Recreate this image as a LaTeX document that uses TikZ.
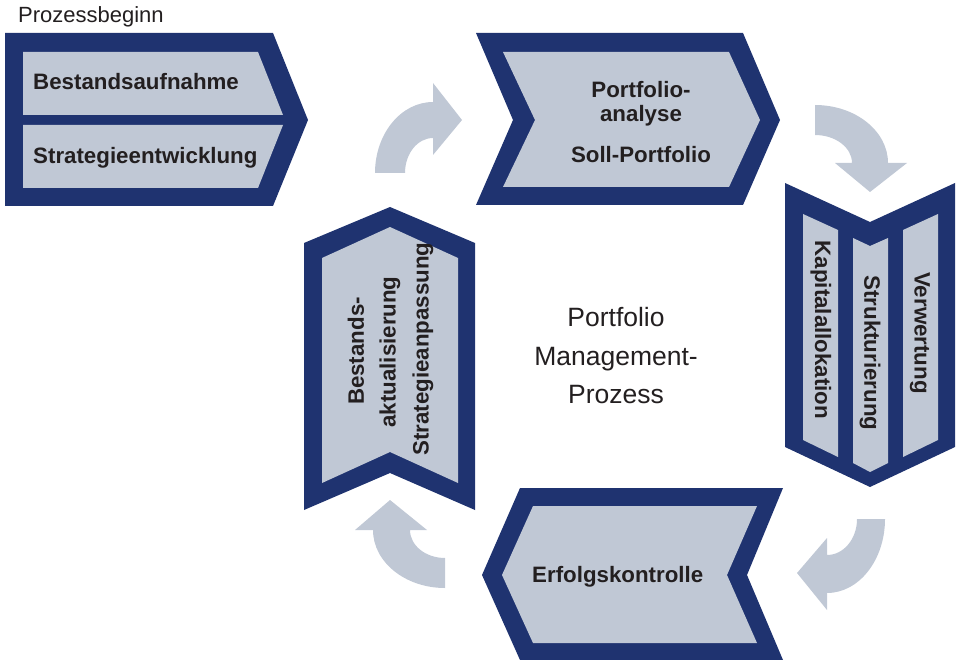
\documentclass[tikz,border=0pt]{standalone}
\usepackage{fontspec}
\setmainfont{Liberation Sans}
\definecolor{dk}{HTML}{1F3370}
\definecolor{lt}{HTML}{C0C8D5}
\definecolor{tx}{HTML}{231F20}
\begin{document}
\begin{tikzpicture}[x=1pt,y=-1pt,
  outer/.style={fill=dk},
  panel/.style={fill=lt},
  arr/.style={fill=lt},
  lbl/.style={font=\fontsize{22.3}{26}\selectfont\bfseries, text=tx, inner sep=0pt},
  plain/.style={font=\fontsize{22}{26}\selectfont, text=tx, inner sep=0pt},
  ctr/.style={font=\fontsize{26.5}{30}\selectfont, text=tx, inner sep=0pt}]
\useasboundingbox (0,0) rectangle (957,660);

% shape 1: Bestandsaufnahme / Strategieentwicklung
\fill[outer] (5,33) -- (273,33) -- (308,120) -- (273,206) -- (5,206) -- cycle;
\fill[panel] (23,52) -- (258,52) -- (283,115) -- (23,115) -- cycle;
\fill[panel] (23,125) -- (283,125) -- (258,188) -- (23,188) -- cycle;
\node[plain, anchor=base west] (beginn) at (18,23) {Prozessbeginn};
\node[lbl, anchor=base west] (bestand) at (33,90) {Bestandsaufnahme};
\node[lbl, anchor=base west] (strat) at (33,164) {Strategieentwicklung};

% shape 2: Portfolioanalyse
\fill[outer] (476,33) -- (743,33) -- (780,120) -- (743,205) -- (476,205) -- (513,120) -- cycle;
\fill[panel] (503,52) -- (729,52) -- (760,120) -- (729,187) -- (503,187) -- (535,120) -- cycle;
\node[lbl, anchor=base] (pa1) at (641,98) {Portfolio-};
\node[lbl, anchor=base] (pa2) at (641,122) {analyse};
\node[lbl, anchor=base] (pa3) at (641,163) {Soll-Portfolio};

% shape 3: right vertical
\fill[outer] (785,183) -- (870,222) -- (955,183) -- (955,447) -- (870,487) -- (785,447) -- cycle;
\fill[panel] (803,214) -- (838,230) -- (838,457) -- (803,440) -- cycle;
\fill[panel] (853,238) -- (870,246) -- (888,238) -- (888,463) -- (870,472) -- (853,463) -- cycle;
\fill[panel] (903,230) -- (938,214) -- (938,440) -- (903,457) -- cycle;
\node[lbl, rotate=-90] (kap) at (821,330) {Kapitalallokation};
\node[lbl, rotate=-90] (struk) at (870,353) {Strukturierung};
\node[lbl, rotate=-90] (verw) at (920,333) {Verwertung};

% shape 4: left vertical
\fill[outer] (390,207) -- (475,243) -- (475,510) -- (390,473) -- (304,510) -- (304,243) -- cycle;
\fill[panel] (390,227) -- (458,258) -- (458,483) -- (390,452) -- (322,483) -- (322,258) -- cycle;
\node[lbl, rotate=90] (ba1) at (356,351) {Bestands-};
\node[lbl, rotate=90] (ba2) at (390,352) {aktualisierung};
\node[lbl, rotate=90] (ba3) at (423,349) {Strategieanpassung};

% shape 5: Erfolgskontrolle
\fill[outer] (520,488) -- (783,488) -- (747,575) -- (783,660) -- (520,660) -- (482,575) -- cycle;
\fill[panel] (533,506) -- (757,506) -- (727,575) -- (757,643) -- (533,643) -- (502,575) -- cycle;
\node[lbl, anchor=base west] (erf) at (532,582) {Erfolgskontrolle};

% centre text
\node[ctr, anchor=base] (c1) at (616,326) {Portfolio};
\node[ctr, anchor=base] (c2) at (616,365) {Management-};
\node[ctr, anchor=base] (c3) at (616,403) {Prozess};

% curved arrows
\fill[arr] (375,173) .. controls (375,133.8) and (401,102) .. (433,102)
  -- (433,83) -- (462,120) -- (433,155) -- (433,138)
  .. controls (417.5,138) and (405,153.7) .. (405,173) -- cycle;
\fill[arr] (815,105) .. controls (855.3,105) and (888,131) .. (888,163)
  -- (907,163) -- (870,192) -- (835,163) -- (852,163)
  .. controls (852,147.5) and (835.4,135) .. (815,135) -- cycle;
\fill[arr] (885,519) .. controls (885,559.9) and (859,593) .. (827,593)
  -- (827,610) -- (797,573) -- (827,538) -- (827,555)
  .. controls (843.6,555) and (857,538.9) .. (857,519) -- cycle;
\fill[arr] (445,588) .. controls (405.2,588) and (373,562) .. (373,530)
  -- (355,530) -- (390,500) -- (427,530) -- (410,530)
  .. controls (410,545.5) and (425.7,558) .. (445,558) -- cycle;
\end{tikzpicture}
\end{document}
